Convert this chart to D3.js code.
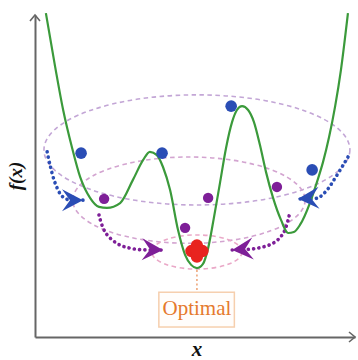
<!DOCTYPE html>
<html><head><meta charset="utf-8">
<script src="https://cdn.jsdelivr.net/npm/d3@7"></script>
<style>html,body{margin:0;padding:0;background:#fff;}svg{display:block;}</style>
</head><body>
<svg id="chart" width="358" height="360"></svg>
<script>
// ---- data (abstract units, x and y in [0,10]) ----
const curveX = [0.34,0.63,0.88,1.16,1.41,1.72,2.00,2.25,2.66,3.06,3.38,3.59,3.81,4.00,4.22,4.47,4.69,4.88,5.06,5.25,5.41,5.59,5.78,5.97,6.16,6.31,6.47,6.66,6.84,7.03,7.22,7.44,7.69,7.91,8.09,8.28,8.59,8.81,9.00,9.19,9.38,9.56,9.78];
const curveY = [10.06,8.39,7.05,5.87,4.97,4.32,4.04,4.01,4.16,4.88,5.50,5.75,5.65,5.28,4.57,3.32,2.55,2.24,2.14,2.27,2.76,3.70,4.78,5.87,6.68,7.05,7.17,7.05,6.68,5.96,5.12,4.32,3.63,3.23,3.26,3.48,4.16,4.81,5.43,6.21,7.17,8.29,10.06];

const ellipseCX = [5.06, 4.81, 5.06];
const ellipseCY = [5.81, 4.25, 2.64];
const ellipseRX = [4.78, 3.63, 1.41];
const ellipseRY = [1.71, 1.34, 0.53];
const ellipseColor = ["#c3a6d6", "#d3a4d0", "#eaa9c8"];

const blueX = [1.44, 3.97, 6.13, 8.66];
const blueY = [5.71, 5.71, 7.17, 5.19];
const purpleX = [2.16, 5.41, 7.56, 4.69];
const purpleY = [4.29, 4.32, 4.66, 3.39];
const optimumX = 5.06, optimumY = 2.67;

const blueLeftX = [0.38, 0.47, 0.63, 0.84, 1.09, 1.50];
const blueLeftY = [5.75, 5.34, 4.78, 4.38, 4.25, 4.25];
const blueRightX = [9.78, 9.63, 9.38, 9.13, 8.84, 8.22];
const blueRightY = [5.59, 5.34, 4.94, 4.57, 4.32, 4.29];
const purpleLeftX = [2.00, 2.19, 2.59, 3.13, 4.00];
const purpleLeftY = [3.79, 3.26, 2.89, 2.73, 2.70];
const purpleRightX = [7.94, 7.78, 7.50, 6.97, 6.16];
const purpleRightY = [3.76, 3.26, 2.95, 2.76, 2.70];

const labelOptimal = "Optimal";
const labelX = "x";
const labelY = "f(x)";

// ---- chart ----
const svg = d3.select("#chart");
const x = d3.scaleLinear().domain([0, 10]).range([35, 355]);
const y = d3.scaleLinear().domain([0, 10]).range([337, 15]);

const BLUE = "#2a4db5", PURPLE = "#7e1f98", GREEN = "#3b9a3b", RED = "#e8231f", ORANGE = "#e5792c", AXIS = "#666";

// ellipses
svg.append("g").selectAll("ellipse").data(ellipseCX).join("ellipse")
  .attr("cx", (d) => x(d))
  .attr("cy", (d, i) => y(ellipseCY[i]))
  .attr("rx", (d, i) => x(d + ellipseRX[i]) - x(d))
  .attr("ry", (d, i) => y(ellipseCY[i]) - y(ellipseCY[i] + ellipseRY[i]))
  .attr("fill", "none")
  .attr("stroke", (d, i) => ellipseColor[i])
  .attr("stroke-width", 1.6)
  .attr("stroke-dasharray", "4.5 3.5");

// dotted arrow paths
const arrows = [
  {xs: blueLeftX, ys: blueLeftY, c: BLUE},
  {xs: blueRightX, ys: blueRightY, c: BLUE},
  {xs: purpleLeftX, ys: purpleLeftY, c: PURPLE},
  {xs: purpleRightX, ys: purpleRightY, c: PURPLE}
];
const lineGen = d3.line().x(d => x(d[0])).y(d => y(d[1])).curve(d3.curveCatmullRom);
const ga = svg.append("g");
arrows.forEach(a => {
  const pts = a.xs.map((v, i) => [v, a.ys[i]]);
  ga.append("path").attr("d", lineGen(pts))
    .attr("fill", "none").attr("stroke", a.c).attr("stroke-width", 3.6)
    .attr("stroke-linecap", "round").attr("stroke-dasharray", "0.1 5.2");
});

// optimal dotted guide
svg.append("line")
  .attr("x1", x(optimumX)).attr("x2", x(optimumX))
  .attr("y1", y(2.08)).attr("y2", y(1.41))
  .attr("stroke", "#eea77c").attr("stroke-width", 1.6)
  .attr("stroke-dasharray", "2 2.5");

// green curve
svg.append("path")
  .datum(curveX.map((v, i) => [v, curveY[i]]))
  .attr("d", d3.line().x(d => x(d[0])).y(d => y(d[1])).curve(d3.curveMonotoneX))
  .attr("fill", "none").attr("stroke", GREEN).attr("stroke-width", 2.2);

// arrowheads
arrows.forEach(a => {
  const n = a.xs.length;
  const tx = x(a.xs[n-1]), ty = y(a.ys[n-1]);
  const px = x(a.xs[n-2]), py = y(a.ys[n-2]);
  const ang = Math.atan2(ty - py, tx - px) * 180 / Math.PI;
  svg.append("path")
    .attr("d", "M0,0 L-21,-11 L-13,0 L-21,11 Z")
    .attr("transform", `translate(${tx},${ty}) rotate(${ang})`)
    .attr("fill", a.c);
});

// dots
svg.append("g").selectAll("circle").data(blueX).join("circle")
  .attr("cx", d => x(d)).attr("cy", (d, i) => y(blueY[i])).attr("r", 5.8).attr("fill", BLUE);
svg.append("g").selectAll("circle").data(purpleX).join("circle")
  .attr("cx", d => x(d)).attr("cy", (d, i) => y(purpleY[i])).attr("r", 5.2).attr("fill", PURPLE);

// optimum flower
const ox = x(optimumX), oy = y(optimumY);
const petals = [[-5.5,0],[5.5,0],[0,-5.5],[0,5.5],[0,0]];
svg.append("g").selectAll("circle").data(petals).join("circle")
  .attr("cx", d => ox + d[0]).attr("cy", d => oy + d[1]).attr("r", 6.2).attr("fill", RED);

// optimal box
const gb = svg.append("g");
gb.append("rect")
  .attr("x", x(3.87)).attr("y", y(1.39))
  .attr("width", x(6.23) - x(3.87)).attr("height", y(0.31) - y(1.39))
  .attr("fill", "#fffdfb").attr("stroke", "#f6cfae").attr("stroke-width", 1.5);
gb.append("text").text(labelOptimal)
  .attr("x", x(optimumX)).attr("y", y(0.68))
  .attr("text-anchor", "middle")
  .attr("font-family", "'Liberation Serif', 'Times New Roman', serif")
  .attr("font-size", 21).attr("fill", ORANGE);

// axes
const gx = svg.append("g").attr("transform", `translate(0,${y(0)})`)
  .call(d3.axisBottom(x).ticks(0).tickSizeOuter(0));
const gy = svg.append("g").attr("transform", `translate(${x(0)},0)`)
  .call(d3.axisLeft(y).ticks(0).tickSizeOuter(0));
[gx, gy].forEach(g => g.select(".domain").attr("stroke", AXIS).attr("stroke-width", 2));
svg.append("path")
  .attr("d", `M${x(10)-6},${y(0)-5} L${x(10)},${y(0)} L${x(10)-6},${y(0)+5}`)
  .attr("fill", "none").attr("stroke", AXIS).attr("stroke-width", 1.6);
svg.append("path")
  .attr("d", `M${x(0)-5},${y(10)+6} L${x(0)},${y(10)} L${x(0)+5},${y(10)+6}`)
  .attr("fill", "none").attr("stroke", AXIS).attr("stroke-width", 1.6);

// axis labels
svg.append("text").text(labelX)
  .attr("x", x(optimumX)).attr("y", 356)
  .attr("text-anchor", "middle")
  .attr("font-family", "'Liberation Serif', 'Times New Roman', serif")
  .attr("font-style", "italic").attr("font-weight", "bold")
  .attr("font-size", 21).attr("fill", "#111");
svg.append("text").text(labelY)
  .attr("transform", `translate(22,${y(5)}) rotate(-90)`)
  .attr("text-anchor", "middle")
  .attr("font-family", "'Liberation Serif', 'Times New Roman', serif")
  .attr("font-style", "italic").attr("font-weight", "bold")
  .attr("font-size", 19).attr("fill", "#111");
</script>
</body></html>
